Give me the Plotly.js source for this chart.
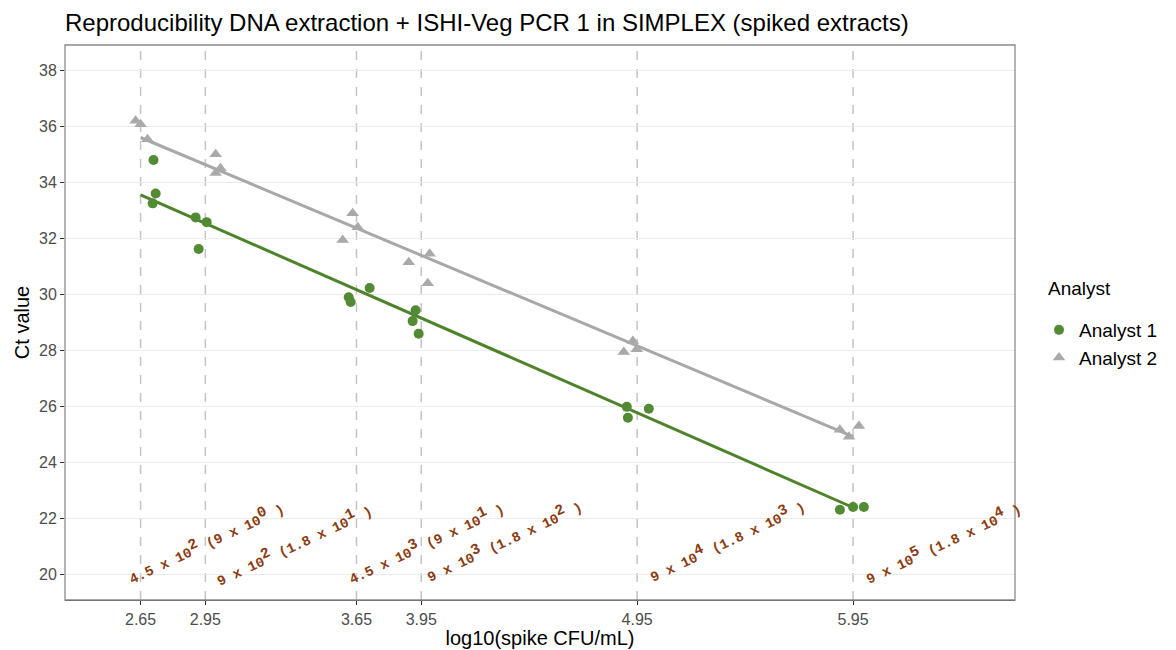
<!DOCTYPE html>
<html>
<head>
<meta charset="utf-8">
<script src="https://cdn.plot.ly/plotly-3.0.1.min.js"></script>
<style>html,body{margin:0;padding:0;background:#fff;}#chart{width:1176px;height:650px;}</style>
</head>
<body>
<div id="chart"></div>
<script>
// ---- data ----
const levels = [2.65, 2.95, 3.65, 3.95, 4.95, 5.95];
const tickLabels = ["2.65", "2.95", "3.65", "3.95", "4.95", "5.95"];

const analyst1X = [2.71, 2.72, 2.706, 2.905, 2.956, 2.919, 3.614, 3.623, 3.711, 3.924, 3.91, 3.938, 4.902, 4.907, 5.004, 5.889, 5.95, 6.0];
const analyst1Y = [34.8, 33.6, 33.25, 32.75, 32.58, 31.62, 29.9, 29.73, 30.23, 29.44, 29.05, 28.6, 25.99, 25.6, 25.92, 22.32, 22.42, 22.42];

const analyst2X = [2.627, 2.65, 2.682, 2.998, 3.02, 2.998, 3.632, 3.656, 3.586, 3.892, 3.989, 3.98, 4.93, 4.888, 4.948, 5.889, 5.931, 5.977];
const analyst2Y = [36.2, 36.07, 35.54, 35.0, 34.5, 34.33, 32.9, 32.4, 31.94, 31.15, 31.45, 30.4, 28.34, 27.95, 28.05, 25.17, 24.92, 25.31];

const fitX = [2.65, 5.95];
const fit1Y = [33.55, 22.4];
const fit2Y = [35.6, 24.93];

const spikeMant = ["4.5", "9", "4.5", "9", "9", "9"];
const spikeExp = ["2", "2", "3", "3", "4", "5"];
const plateMant = ["9", "1.8", "9", "1.8", "1.8", "1.8"];
const plateExp = ["0", "1", "1", "2", "3", "4"];
const labelX = [2.951, 3.359, 3.971, 4.332, 5.365, 6.366];
const labelY = [21.18, 21.1, 21.18, 21.25, 21.25, 21.18];

// ---- styles ----
const green = "#538a34";
const greenLine = "#4e832c";
const grey = "#a9a9a9";
const brown = "#8b3c12";

const traces = [
  {x: fitX, y: fit1Y, mode: "lines", line: {color: greenLine, width: 3}, showlegend: false, hoverinfo: "skip"},
  {x: fitX, y: fit2Y, mode: "lines", line: {color: "#a8a8a8", width: 3}, showlegend: false, hoverinfo: "skip"},
  {x: analyst1X, y: analyst1Y, mode: "markers", name: "Analyst 1",
   marker: {symbol: "circle", color: green, size: 10}},
  {x: analyst2X, y: analyst2Y, mode: "markers", name: "Analyst 2",
   marker: {symbol: "triangle-up", color: grey, size: 11}}
];

const shapes = levels.map(v => ({
  type: "line", xref: "x", yref: "paper", x0: v, x1: v, y0: 0, y1: 1,
  line: {color: "#c4c4c4", width: 1.5, dash: "dash"}, layer: "below"
}));
shapes.push({type: "rect", xref: "paper", yref: "paper", x0: 0, x1: 1, y0: 0, y1: 1,
  line: {color: "#8a8a8a", width: 1.3}, fillcolor: "rgba(0,0,0,0)", layer: "above"});

const sup = s => "<sup><span style=\"font-size:15px\">" + s + "</span></sup>";
const annotations = spikeMant.map((m, i) => ({
  x: labelX[i], y: labelY[i], xref: "x", yref: "y",
  text: "<b>" + m + " x 10" + sup(spikeExp[i]) + " (" + plateMant[i] + " x 10" + sup(plateExp[i]) + " )</b>",
  showarrow: false, textangle: -25, xanchor: "center", yanchor: "middle",
  font: {family: "Liberation Mono, DejaVu Sans Mono, monospace", size: 14, color: brown}
}));
annotations.push({x: (1046 - 65) / 950, xref: "paper", xanchor: "left",
  y: (600 - 288) / 555, yref: "paper", yanchor: "middle", text: "Analyst",
  showarrow: false, font: {size: 19, color: "#000"}});

const layout = {
  width: 1176, height: 650,
  margin: {l: 65, r: 161, t: 45, b: 50},
  paper_bgcolor: "#ffffff", plot_bgcolor: "#ffffff",
  font: {family: "Liberation Sans, Arial, sans-serif", color: "#000"},
  title: {text: "Reproducibility DNA extraction + ISHI-Veg PCR 1 in SIMPLEX (spiked extracts)",
    x: 0, xref: "paper", xanchor: "left", y: 0.966, yref: "container", yanchor: "middle",
    font: {size: 24, color: "#000"}},
  xaxis: {range: [2.3, 6.7], tickmode: "array", tickvals: levels, ticktext: tickLabels,
    showgrid: false, zeroline: false, showline: true, linecolor: "#333", linewidth: 1.3,
    ticks: "outside", ticklen: 4, tickcolor: "#333", tickwidth: 1,
    tickfont: {size: 16, color: "#4d4d4d"},
    title: {text: "log10(spike CFU/mL)", font: {size: 20, color: "#000"}, standoff: 3}},
  yaxis: {range: [19.1, 38.9], tickmode: "array", tickvals: [20,22,24,26,28,30,32,34,36,38],
    showgrid: true, gridcolor: "#ebebeb", gridwidth: 1.2, zeroline: false,
    showline: false, ticks: "outside", ticklen: 4, tickcolor: "#333", tickwidth: 1,
    tickfont: {size: 16, color: "#4d4d4d"},
    title: {text: "Ct value", font: {size: 20, color: "#000"}, standoff: 4}},
  legend: {x: (1039 - 65) / 950, xanchor: "left", y: (600 - 311) / 555, yanchor: "top",
    font: {size: 19}},
  shapes: shapes,
  annotations: annotations
};

Plotly.newPlot("chart", traces, layout, {displayModeBar: false, staticPlot: true});
</script>
</body>
</html>
